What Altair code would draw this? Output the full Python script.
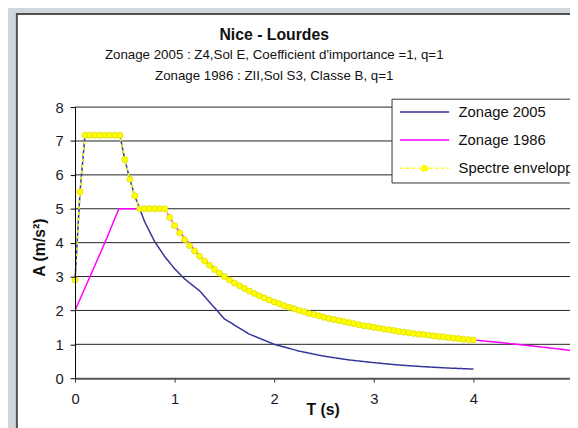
import altair as alt
import pandas as pd

# ---- data ----
series = ["Zonage 2005", "Zonage 1986", "Spectre enveloppe"]
colors = ["#333399", "#ff00ff", "#ffff00"]

T_2005 = [0, 0.05, 0.1, 0.45, 0.5, 0.55, 0.6, 0.7, 0.8, 0.9, 1.0, 1.1, 1.25,
          1.5, 1.75, 2.0, 2.25, 2.5, 2.75, 3.0, 3.25, 3.5, 3.75, 4.0]
A_2005 = [2.9, 5.5, 7.17, 7.17, 6.45, 5.87, 5.38, 4.61, 4.03, 3.59, 3.23, 2.93, 2.58,
          1.75, 1.30, 1.0, 0.80, 0.65, 0.54, 0.46, 0.39, 0.34, 0.30, 0.27]

T_1986 = [0, 0.15, 0.3, 0.44, 0.9, 1.0, 1.25, 1.5, 1.75, 2.0, 2.25, 2.5, 2.75, 3.0,
          3.25, 3.5, 3.75, 4.0, 4.25, 4.5, 4.75, 5.0]
A_1986 = [2.0, 3.0, 4.0, 5.0, 5.0, 4.5, 3.6, 3.0, 2.57, 2.25, 2.0, 1.8, 1.64, 1.5,
          1.38, 1.29, 1.2, 1.13, 1.06, 0.98, 0.9, 0.81]

T_env = [round(i * 0.05, 2) for i in range(81)]
A_env = [2.9, 5.5, 7.17, 7.17, 7.17, 7.17, 7.17, 7.17, 7.17, 7.17,
         6.45, 5.87, 5.38, 5.0, 5.0, 5.0, 5.0, 5.0, 5.0,
         4.74, 4.50, 4.29, 4.09, 3.91, 3.75, 3.60, 3.46, 3.33, 3.21,
         3.10, 3.00, 2.90, 2.81, 2.73, 2.65, 2.57, 2.50, 2.43, 2.37,
         2.31, 2.25, 2.20, 2.14, 2.09, 2.05, 2.00, 1.96, 1.91, 1.88,
         1.84, 1.80, 1.76, 1.73, 1.70, 1.67, 1.64, 1.61, 1.58, 1.55,
         1.53, 1.50, 1.48, 1.45, 1.43, 1.41, 1.38, 1.36, 1.34, 1.32,
         1.30, 1.29, 1.27, 1.25, 1.23, 1.22, 1.20, 1.18, 1.17, 1.15,
         1.14, 1.13]

x_ticks = [0, 1, 2, 3, 4]
y_ticks = [0, 1, 2, 3, 4, 5, 6, 7, 8]

title_text = "Nice - Lourdes"
# the second line carries trailing (non-breaking) spaces, as in the original title
subtitle_lines = ["Zonage 2005 : Z4,Sol E, Coefficient d'importance =1, q=1",
                  "Zonage 1986 : ZII,Sol S3, Classe B, q=1" + "\u00a0" * 12]

FONT = "Liberation Sans, Arial, sans-serif"

df05 = pd.DataFrame({"T": T_2005, "A": A_2005, "s": series[0]})
df86 = pd.DataFrame({"T": T_1986, "A": A_1986, "s": series[1]})
dfenv = pd.DataFrame({"T": T_env, "A": A_env, "s": series[2]})

xscale = alt.Scale(domain=[0, 4.97], nice=False, zero=False)
yscale = alt.Scale(domain=[0, 8], nice=False)

x_axis = alt.Axis(values=x_ticks, title="T (s)", grid=False, tickSize=4,
                  tickColor="#333333", domainColor="#555555", domainWidth=2,
                  labelFontSize=15, labelFont=FONT, labelColor="#1a1a2a",
                  labelPadding=10, labelFlush=False,
                  titleFont=FONT, titleFontSize=16, titleFontWeight="bold",
                  titleColor="#111111", titleBaseline="alphabetic", titleY=37,
                  zindex=1)
y_axis = alt.Axis(values=y_ticks, title="A (m/s²)", grid=False, tickSize=5,
                  tickColor="#000000", domainColor="#000000", domainWidth=1,
                  labelFontSize=15, labelFont=FONT, labelColor="#1a1a2a",
                  labelPadding=7,
                  titleFont=FONT, titleFontSize=16, titleFontWeight="bold",
                  titleColor="#111111", titleAngle=270, titleBaseline="alphabetic",
                  titleAlign="center", titleX=-31, titleY=142, zindex=1)

X = alt.X("T:Q", scale=xscale, axis=x_axis)
Y = alt.Y("A:Q", scale=yscale, axis=y_axis)

shape_expr = ("datum.value === 'Spectre enveloppe' ? "
              "'M-5,0H5M0.65,0A0.65,0.65,0,1,1,-0.65,0A0.65,0.65,0,1,1,0.65,0Z' : 'M-5,0H5'")
fill_expr = "datum.value === 'Spectre enveloppe' ? '#ffff00' : 'transparent'"

color = alt.Color("s:N", scale=alt.Scale(domain=series, range=colors),
                  legend=alt.Legend(title=None, orient="none", legendX=321, legendY=-8.5,
                                    fillColor="white", strokeColor="#333333",
                                    padding=6, rowPadding=12.5, symbolSize=100,
                                    symbolOffset=20, labelOffset=27,
                                    symbolType={"expr": shape_expr},
                                    symbolFillColor={"expr": fill_expr},
                                    symbolStrokeWidth=1.5, labelFont=FONT,
                                    labelFontSize=15, labelColor="#111111",
                                    labelLimit=400))
dash = alt.StrokeDash("s:N", scale=alt.Scale(domain=series, range=[[1, 0], [1, 0], [3, 3]]),
                      legend=None)

frame = alt.Chart(pd.DataFrame({"f": [0]})).mark_rect(
    fill="white", stroke="#505050", strokeWidth=2).encode(
    x=alt.value(-59), x2=alt.value(700), y=alt.value(-94.5), y2=alt.value(500))

grid = alt.Chart(pd.DataFrame({"A": y_ticks[1:]})).mark_rule(
    color="#222222", strokeWidth=1).encode(y=Y)

l05 = alt.Chart(df05).mark_line(strokeWidth=1.5).encode(x=X, y=Y, color=color, strokeDash=dash)
l86 = alt.Chart(df86).mark_line(strokeWidth=1.5, clip=True).encode(x=X, y=Y, color=color, strokeDash=dash)
lenv = alt.Chart(dfenv).mark_line(strokeWidth=1.5).encode(x=X, y=Y, color=color, strokeDash=dash)
penv = alt.Chart(dfenv).mark_point(filled=True, fill="#ffff00", stroke="#d6d600",
                                   strokeWidth=0.7, size=38, opacity=1).encode(x=X, y=Y)

chart = alt.layer(frame, grid, l05, l86, lenv, penv).properties(
    width=502, height=275,
    title=alt.TitleParams(text=title_text, subtitle=subtitle_lines,
                          font=FONT, fontSize=16, fontWeight="bold", color="#111111",
                          subtitleFont=FONT, subtitleFontSize=13.5,
                          subtitleColor="#111111", subtitleLineHeight=21.7,
                          subtitlePadding=5, anchor="middle", frame="group",
                          dx=-49, offset=-71),
    autosize=alt.AutoSizeParams(type="none"),
    padding={"left": 68, "top": 97.5, "right": 0, "bottom": 47.5},
    background="#d0d6da",
).configure_view(stroke=None)

chart.save("out.html", embed_options={"renderer": "svg", "actions": False})
